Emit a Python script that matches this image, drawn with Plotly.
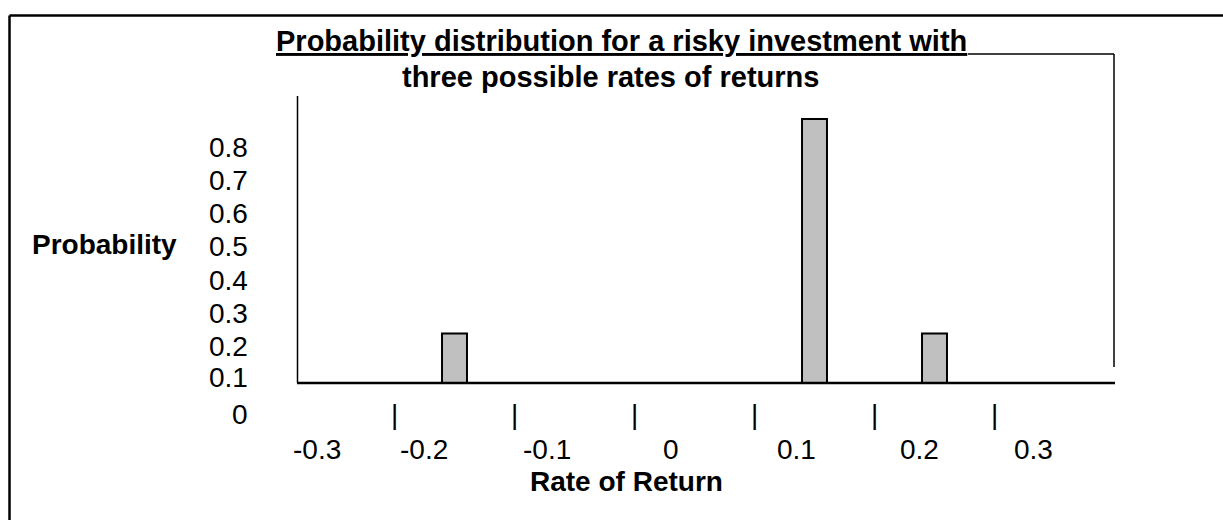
import plotly.graph_objects as go

# Three possible rates of return and their probabilities
returns = [-0.2, 0.1, 0.2]
probabilities = [0.15, 0.8, 0.15]

y_tick_labels = ["0.8", "0.7", "0.6", "0.5", "0.4", "0.3", "0.2", "0.1", "0"]
x_tick_labels = ["-0.3", "-0.2", "-0.1", "0", "0.1", "0.2", "0.3"]
x_divider_values = [-0.25, -0.15, -0.05, 0.05, 0.15, 0.25]

W, H = 1223, 520
FONT = "Liberation Sans, Arial, sans-serif"


def px(x):
    return x / W


def py(y):
    return 1 - y / H


fig = go.Figure()
fig.add_trace(go.Bar(
    x=returns,
    y=probabilities,
    width=0.0208,
    marker=dict(color="#c0c0c0", line=dict(color="black", width=2)),
    hoverinfo="x+y",
))

# plot frame: x in [297, 1113] px, y in [54, 383] px
fig.update_layout(
    width=W, height=H,
    margin=dict(l=0, r=0, t=0, b=0),
    paper_bgcolor="white", plot_bgcolor="white",
    showlegend=False,
    xaxis=dict(domain=[px(297), px(1113)], range=[-0.33125, 0.34875],
               visible=False, fixedrange=True),
    yaxis=dict(domain=[py(383), py(54)], range=[0, 0.997],
               visible=False, fixedrange=True),
)

line = dict(color="black", width=1.5)
shapes = [
    # outer frame
    dict(type="line", xref="paper", yref="paper", x0=px(9.5), x1=1.0,
         y0=py(15.5), y1=py(15.5), line=dict(color="black", width=2.5)),
    dict(type="line", xref="paper", yref="paper", x0=px(9.5), x1=px(9.5),
         y0=py(15.5), y1=0, line=dict(color="black", width=2.5)),
    # chart box
    dict(type="line", xref="paper", yref="paper", x0=px(297.5), x1=px(297.5),
         y0=py(96), y1=py(383), line=line),
    dict(type="line", xref="paper", yref="paper", x0=px(968), x1=px(1114),
         y0=py(54), y1=py(54), line=line),
    dict(type="line", xref="paper", yref="paper", x0=px(1114), x1=px(1114),
         y0=py(54), y1=py(367), line=line),
    dict(type="line", xref="paper", yref="paper", x0=px(297), x1=px(1115),
         y0=py(383), y1=py(383), line=dict(color="black", width=2.5)),
]
fig.update_layout(shapes=shapes)


def text(t, x, y, size=28, xanchor="center", xref="paper"):
    return dict(text=t, x=x, y=py(y), xref=xref, yref="paper",
                xanchor=xanchor, yanchor="middle", showarrow=False,
                font=dict(family=FONT, size=size, color="black"))


ann = [
    text("<b><u>Probability distribution for a risky investment with</u></b>",
         px(621), 41, size=29),
    text("<b>three possible rates of returns</b>", px(610), 77, size=29),
    text("<b>Probability</b>", px(104), 244),
    text("<b>Rate of Return</b>", px(626), 481),
]

y_label_pos = [147, 180, 213, 246, 280, 313, 346, 377, 414]
for lab, yy in zip(y_tick_labels, y_label_pos):
    ann.append(text(lab, px(250), yy, xanchor="right"))

x_label_pos = [317, 424, 547, 671, 796, 919, 1033]
for lab, xx in zip(x_tick_labels, x_label_pos):
    ann.append(text(lab, px(xx), 449))

for v in x_divider_values:
    ann.append(text("|", v, 414, xref="x"))

fig.update_layout(annotations=ann)
fig.write_html("out.html", config={"displayModeBar": False})
